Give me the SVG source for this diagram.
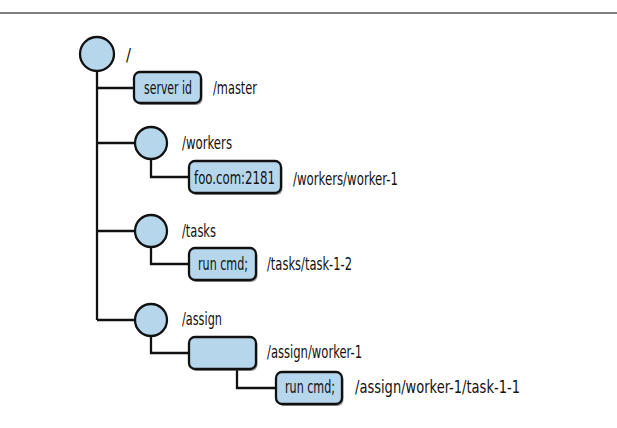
<svg xmlns="http://www.w3.org/2000/svg" width="617" height="428" viewBox="0 0 617 428">
<style>
.node{fill:#b6d6eb;stroke:#111;stroke-width:2.3}
.shadow{fill:#555;opacity:0.6}
.conn{fill:none;stroke:#111;stroke-width:2.3}
text{font-family:"DejaVu Sans Condensed","Liberation Sans",sans-serif;font-size:17.5px;fill:#111}
</style>
<rect x="0" y="0" width="617" height="428" fill="#fff"/>
<line x1="0" y1="13" x2="617" y2="13" stroke="#555" stroke-width="1.5"/>
<g id="connectors">
<path class="conn" d="M97,71 V320"/>
<path class="conn" d="M97,88 H134"/>
<path class="conn" d="M97,143 H135"/>
<path class="conn" d="M97,231 H135"/>
<path class="conn" d="M97,320 H135"/>
<path class="conn" d="M151,159 V177 H189"/>
<path class="conn" d="M151,247 V264 H189"/>
<path class="conn" d="M151,336 V353 H189"/>
<path class="conn" d="M237,369 V388 H276"/>
</g>
<g id="root">
<circle class="node" cx="97" cy="54" r="17"/>
<text x="126" y="61" textLength="5" lengthAdjust="spacingAndGlyphs">/</text>
</g>
<g id="master">
<rect class="shadow" x="135.5" y="74" width="67" height="31" rx="6"/>
<rect class="node" x="134" y="72" width="67" height="31" rx="6"/>
<text x="144" y="94" textLength="48" lengthAdjust="spacingAndGlyphs">server id</text>
<text x="213" y="94" textLength="44" lengthAdjust="spacingAndGlyphs">/master</text>
</g>
<g id="workers">
<circle class="node" cx="151" cy="143" r="16"/>
<text x="182" y="149" textLength="50" lengthAdjust="spacingAndGlyphs">/workers</text>
</g>
<g id="worker-1">
<rect class="shadow" x="190.5" y="163" width="92" height="32" rx="6"/>
<rect class="node" x="189" y="161" width="92" height="32" rx="6"/>
<text x="194" y="184" textLength="81" lengthAdjust="spacingAndGlyphs">foo.com:2181</text>
<text x="293" y="185" textLength="105" lengthAdjust="spacingAndGlyphs">/workers/worker-1</text>
</g>
<g id="tasks">
<circle class="node" cx="151" cy="231" r="16"/>
<text x="182" y="237" textLength="34" lengthAdjust="spacingAndGlyphs">/tasks</text>
</g>
<g id="task-1-2">
<rect class="shadow" x="190.5" y="250" width="67" height="32" rx="6"/>
<rect class="node" x="189" y="248" width="67" height="32" rx="6"/>
<text x="198" y="270" textLength="50" lengthAdjust="spacingAndGlyphs">run cmd;</text>
<text x="267" y="270" textLength="85" lengthAdjust="spacingAndGlyphs">/tasks/task-1-2</text>
</g>
<g id="assign">
<circle class="node" cx="151" cy="320" r="16"/>
<text x="182" y="325" textLength="40" lengthAdjust="spacingAndGlyphs">/assign</text>
</g>
<g id="assign-worker-1">
<rect class="shadow" x="190.5" y="339" width="67" height="32" rx="6"/>
<rect class="node" x="189" y="337" width="67" height="32" rx="6"/>
<text x="267" y="358" textLength="95" lengthAdjust="spacingAndGlyphs">/assign/worker-1</text>
</g>
<g id="task-1-1">
<rect class="shadow" x="277.5" y="374" width="66" height="32" rx="6"/>
<rect class="node" x="276" y="372" width="66" height="32" rx="6"/>
<text x="285" y="393" textLength="50" lengthAdjust="spacingAndGlyphs">run cmd;</text>
<text x="355" y="393" textLength="165" lengthAdjust="spacingAndGlyphs">/assign/worker-1/task-1-1</text>
</g>
</svg>
